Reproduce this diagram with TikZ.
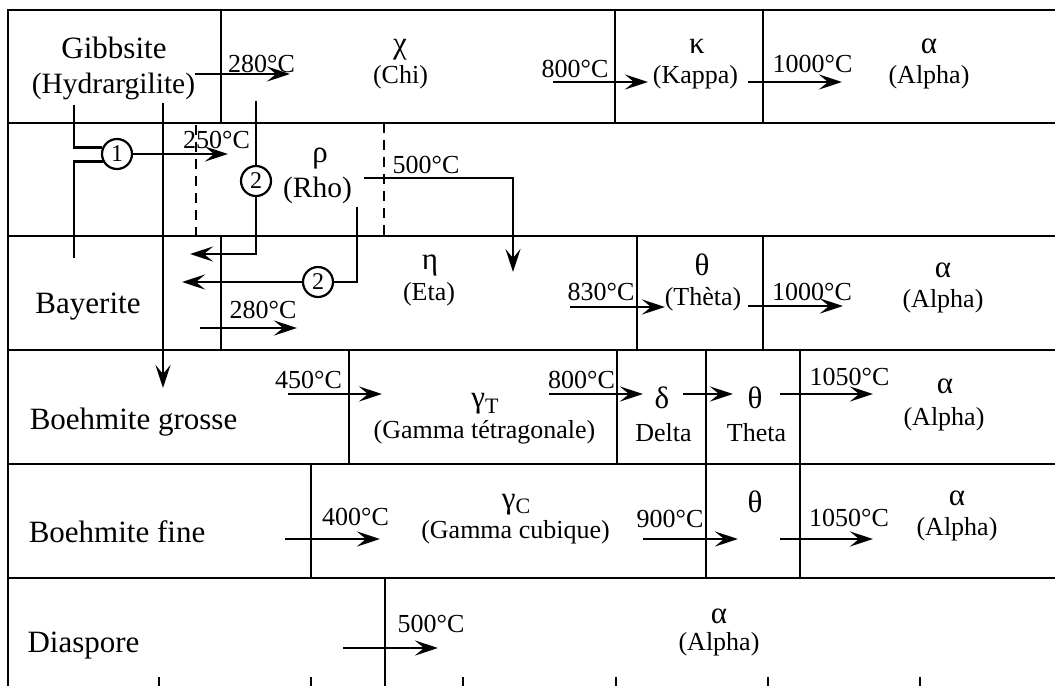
\documentclass[tikz,border=0pt]{standalone}
\usepackage{fontspec}
\setmainfont{Liberation Serif}
\usetikzlibrary{arrows.meta}
\tikzset{
  frameline/.style={line width=2.8pt},
  cellline/.style={line width=2.6pt},
  conn/.style={line width=2.6pt},
  arr/.style={line width=2.8pt,-{Stealth[length=23pt,width=15pt,inset=9pt]}},
  dashline/.style={line width=2.2pt,dash pattern=on 10pt off 7pt},
  big/.style={font=\fontsize{31}{31}\selectfont,inner sep=0pt,anchor=base},
  mid/.style={font=\fontsize{29.5}{30}\selectfont,inner sep=0pt,anchor=base},
  small/.style={font=\fontsize{26}{26}\selectfont,inner sep=0pt,anchor=base},
  greek/.style={font=\fontsize{31}{31}\selectfont,inner sep=0pt,anchor=base},
  num/.style={circle,draw,line width=2.2pt,minimum size=30pt,inner sep=0pt,fill=white,font=\fontsize{24}{24}\selectfont}
}
\begin{document}
\begin{tikzpicture}[x=1pt,y=-1pt]
\useasboundingbox (0,0) rectangle (1055,686);
% frame and rows
\draw[frameline] (8,686) -- (8,10) -- (1055,10);
\foreach \yy in {123,236,350,464,578} \draw[frameline] (8,\yy) -- (1055,\yy);
% row 1 dividers
\foreach \xx in {221,615,763} \draw[cellline] (\xx,10) -- (\xx,123);
% row 3 dividers
\foreach \xx in {221,637,763} \draw[cellline] (\xx,236) -- (\xx,350);
% row 4 dividers
\foreach \xx in {349,617,706,800} \draw[cellline] (\xx,350) -- (\xx,464);
% row 5 dividers
\foreach \xx in {311,706,800} \draw[cellline] (\xx,464) -- (\xx,578);
% row 6 divider
\draw[cellline] (385,578) -- (385,686);
% bottom ticks
\foreach \xx in {159,311,463,616,768,920} \draw[cellline] (\xx,677) -- (\xx,686);
% dashed lines row 2
\draw[dashline] (196,125) -- (196,236);
\draw[dashline] (384,123) -- (384,236);

% ---- texts row 1
\node[big] (gib) at (114,58) {Gibbsite};
\node[mid] (hyd) at (113.5,93) {(Hydrargilite)};
\node[small] (t280a) at (261.5,72) {280°C};
\node[greek] (chi) at (400,53) {χ};
\node[small] (chil) at (400.5,83) {(Chi)};
\node[small] (t800a) at (575,77) {800°C};
\node[greek] (kap) at (697,53) {κ};
\node[small] (kapl) at (695.5,83) {(Kappa)};
\node[small] (t1000a) at (812.5,72) {1000°C};
\node[greek] (alA) at (929,53) {α};
\node[small] (alAl) at (929,83) {(Alpha)};

% ---- row 2
\node[small] (t250) at (216.5,148) {250°C};
\node[greek] (rho) at (320,162) {ρ};
\node[mid] (rhol) at (317.5,197.5) {(Rho)};
\node[small] (t500a) at (426,173) {500°C};

% ---- row 3
\node[big] (bay) at (88,313) {Bayerite};
\node[small] (t280b) at (263,318) {280°C};
\node[greek] (eta) at (430,269) {η};
\node[small] (etal) at (429,300) {(Eta)};
\node[small] (t830) at (601,300) {830°C};
\node[greek] (thA) at (702,275) {θ};
\node[small] (thAl) at (703,305) {(Thèta)};
\node[small] (t1000b) at (812,300) {1000°C};
\node[greek] (alB) at (943,277) {α};
\node[small] (alBl) at (943,307) {(Alpha)};

% ---- row 4
\node[big] (bg) at (133.5,429) {Boehmite grosse};
\node[small] (t450) at (308.5,388) {450°C};
\node[greek] (gT) at (485,407) {γ\raisebox{-6pt}{\fontsize{22}{22}\selectfont T}};
\node[small] (gTl) at (484.5,438) {(Gamma tétragonale)};
\node[small] (t800b) at (581.5,388) {800°C};
\node[greek] (del) at (662,408) {δ};
\node[small] (dell) at (663.5,441) {Delta};
\node[greek] (thB) at (755,408) {θ};
\node[small] (thBl) at (756.5,441) {Theta};
\node[small] (t1050a) at (849.5,385) {1050°C};
\node[greek] (alC) at (945,393) {α};
\node[small] (alCl) at (944,425) {(Alpha)};

% ---- row 5
\node[big] (bf) at (117,542) {Boehmite fine};
\node[small] (t400) at (355.5,525) {400°C};
\node[greek] (gC) at (516,508) {γ\raisebox{-5pt}{\fontsize{22}{22}\selectfont C}};
\node[small] (gCl) at (515.5,538) {(Gamma cubique)};
\node[small] (t900) at (670,527) {900°C};
\node[greek] (thC) at (755,512) {θ};
\node[small] (t1050b) at (849,526) {1050°C};
\node[greek] (alD) at (957,505) {α};
\node[small] (alDl) at (957,535) {(Alpha)};

% ---- row 6
\node[big] (dia) at (83.5,652) {Diaspore};
\node[small] (t500b) at (431,632) {500°C};
\node[greek] (alE) at (719,623) {α};
\node[small] (alEl) at (719,650) {(Alpha)};

% ---- numbered circles
\node[num] (c1) at (117,154) {1};
\node[num] (c2a) at (256,181) {2};
\node[num] (c2b) at (318,282) {2};

% ---- coordinates for connector ends
\coordinate (a1s) at (195,74);   \coordinate (a1e) at (290,74);
\coordinate (a2s) at (553,82);   \coordinate (a2e) at (648,82);
\coordinate (a3s) at (748,82);   \coordinate (a3e) at (842,82);
\coordinate (g1) at (74,105);    \coordinate (b1) at (74,258);
\coordinate (c1e) at (228,154);
\coordinate (v1s) at (163,103);  \coordinate (v1e) at (163,388);
\coordinate (c2as) at (256,101); \coordinate (c2ae) at (190,254);
\coordinate (c2bs) at (357,207); \coordinate (c2be) at (182,282);
\coordinate (r5s) at (364,178);  \coordinate (r5e) at (513,272);
\coordinate (b2s) at (200,328);  \coordinate (b2e) at (297,328);
\coordinate (b3s) at (570,307);  \coordinate (b3e) at (665,307);
\coordinate (b4s) at (748,306);  \coordinate (b4e) at (843,306);
\coordinate (d1s) at (288,394);  \coordinate (d1e) at (382,394);
\coordinate (d2s) at (549,394);  \coordinate (d2e) at (643,394);
\coordinate (d3s) at (683,394);  \coordinate (d3e) at (733,394);
\coordinate (d4s) at (780,394);  \coordinate (d4e) at (873,394);
\coordinate (f1s) at (285,539);  \coordinate (f1e) at (380,539);
\coordinate (f2s) at (643,539);  \coordinate (f2e) at (738,539);
\coordinate (f3s) at (780,539);  \coordinate (f3e) at (873,539);
\coordinate (h1s) at (343,648);  \coordinate (h1e) at (438,648);

% ---- connectors
\draw[arr] (a1s) -- (a1e);
\draw[arr] (a2s) -- (a2e);
\draw[arr] (a3s) -- (a3e);
\draw[conn] (g1) |- (c1.156);
\draw[conn] (b1) |- (c1.208);
\draw[arr] (c1.east) -- (c1e);
\draw[arr] (v1s) -- (v1e);
\draw[conn] (c2as) -- (c2a.north);
\draw[arr] (c2a.south) |- (c2ae);
\draw[conn] (c2bs) |- (c2b.east);
\draw[arr] (c2b.west) -- (c2be);
\draw[arr] (r5s) -| (r5e);
\draw[arr] (b2s) -- (b2e);
\draw[arr] (b3s) -- (b3e);
\draw[arr] (b4s) -- (b4e);
\draw[arr] (d1s) -- (d1e);
\draw[arr] (d2s) -- (d2e);
\draw[arr] (d3s) -- (d3e);
\draw[arr] (d4s) -- (d4e);
\draw[arr] (f1s) -- (f1e);
\draw[arr] (f2s) -- (f2e);
\draw[arr] (f3s) -- (f3e);
\draw[arr] (h1s) -- (h1e);
\end{tikzpicture}
\end{document}
